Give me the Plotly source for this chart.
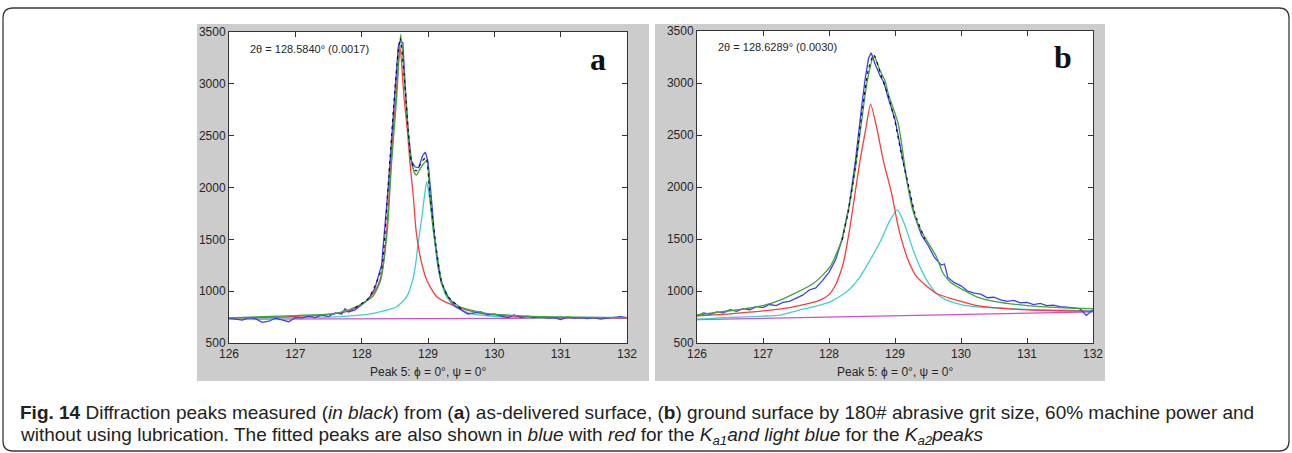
import plotly.graph_objects as go

W, H = 1292, 453

# ---------------- Panel a data ----------------
a_base_x = [126.0, 132.0]
a_base_y = [730, 742]

a_ka1_x = [126.0, 126.5, 127.0, 127.5, 127.774, 128.025, 128.176, 128.277, 128.327, 128.377, 128.412, 128.442,
           128.477, 128.518, 128.578, 128.638, 128.689, 128.729, 128.779, 128.819, 128.854, 128.905, 128.98,
           129.131, 129.433, 129.784, 130.2, 130.6, 131.0, 131.5, 132.0]
a_ka1_y = [742, 746, 756, 776, 802, 883, 979, 1108, 1268, 1590, 1911, 2233,
           2554, 2875, 3357, 2875, 2554, 2233, 1911, 1590, 1429, 1268, 1108,
           947, 850, 786, 762, 752, 746, 742, 740]

a_ka2_x = [126.0, 127.0, 127.673, 128.176, 128.528, 128.679, 128.769, 128.815, 128.845, 128.88, 128.915, 128.945,
           128.98, 129.02, 129.08, 129.141, 129.191, 129.282, 129.407, 129.633, 130.036, 130.5, 131.0, 132.0]
a_ka2_y = [738, 745, 754, 786, 850, 947, 1108, 1268, 1429, 1590, 1751, 1911,
           2056, 1911, 1590, 1268, 1108, 947, 850, 786, 754, 746, 742, 740]

a_fit_x = [126.0, 127.0, 127.62, 127.92, 128.166, 128.287, 128.387, 128.45, 128.528, 128.59, 128.663, 128.70,
           128.754, 128.82, 128.90, 128.98, 129.03, 129.08, 129.156, 129.20, 129.29, 129.48, 129.88, 130.5,
           131.0, 132.0]
a_fit_y = [742, 765, 786, 850, 947, 1108, 1590, 2233, 2875, 3480, 2875, 2554,
           2233, 2120, 2200, 2260, 1911, 1590, 1268, 1108, 947, 850, 786, 760,
           752, 745]

a_meas_x = [126.0, 126.1, 126.2, 126.3, 126.4, 126.5, 126.6, 126.7, 126.8, 126.9, 127.0, 127.1, 127.2, 127.3,
            127.4, 127.5, 127.6, 127.7, 127.75, 127.8, 127.9, 128.0, 128.1, 128.2, 128.3, 128.4, 128.45, 128.5,
            128.55, 128.58, 128.62, 128.66, 128.7, 128.75, 128.8, 128.86, 128.92, 128.96, 129.0, 129.05, 129.1,
            129.15, 129.2, 129.3, 129.4, 129.5, 129.6, 129.7, 129.8, 129.9, 130.0, 130.1, 130.2, 130.3, 130.4,
            130.5, 130.6, 130.7, 130.8, 130.9, 131.0, 131.1, 131.2, 131.3, 131.4, 131.5, 131.6, 131.7, 131.8,
            131.9, 132.0]
a_meas_y = [740, 730, 720, 745, 735, 700, 710, 740, 725, 705, 745, 740, 760, 745,
            770, 755, 790, 780, 830, 800, 820, 870, 920, 1030, 1250, 2000, 2450, 2920,
            3350, 3410, 3400, 2950, 2550, 2260, 2200, 2190, 2310, 2340, 2250, 1900, 1520,
            1250, 1080, 950, 860, 820, 780, 790, 800, 770, 780, 760, 745, 770, 745,
            760, 745, 755, 740, 745, 725, 750, 740, 745, 735, 745, 730, 740, 745,
            755, 745]

a_dash_x = [127.9, 128.1, 128.2, 128.3, 128.4, 128.5, 128.58, 128.66, 128.7, 128.75, 128.82, 128.92, 128.97,
            129.03, 129.1, 129.2, 129.3, 129.5]
a_dash_y = [840, 930, 1050, 1220, 2020, 2940, 3440, 2920, 2560, 2250, 2160, 2260, 2290,
            1920, 1540, 1100, 950, 830]

# ---------------- Panel b data ----------------
b_base_x = [126.0, 132.0]
b_base_y = [725, 800]

b_ka1_x = [126.0, 126.5, 127.0, 127.46, 127.864, 128.0, 128.1, 128.18, 128.227, 128.318, 128.394, 128.47, 128.561,
           128.63, 128.722, 128.823, 128.95, 129.05, 129.2, 129.33, 129.63, 129.935, 130.24, 130.7, 131.0, 131.5,
           132.0]
b_ka1_y = [760, 780, 808, 848, 912, 965, 1060, 1190, 1296, 1615, 1935, 2254, 2573,
           2797, 2573, 2254, 1935, 1615, 1296, 1136, 976, 912, 860, 830, 818, 810,
           805]

b_ka2_x = [126.0, 126.5, 127.0, 127.258, 127.51, 127.762, 128.015, 128.268, 128.47, 128.621, 128.773, 128.924,
           129.035, 129.10, 129.177, 129.277, 129.379, 129.48, 129.63, 129.783, 130.035, 130.238, 130.5, 131.0,
           131.5, 132.0]
b_ka2_y = [730, 745, 758, 768, 810, 848, 896, 992, 1136, 1296, 1471, 1679,
           1781, 1711, 1583, 1391, 1231, 1104, 976, 912, 864, 848, 838, 824,
           815, 810]

b_fit_x = [126.0, 126.5, 127.0, 127.258, 127.762, 128.015, 128.19, 128.29, 128.394, 128.495, 128.58, 128.68,
           128.773, 128.848, 128.9, 129.05, 129.18, 129.27, 129.38, 129.48, 129.63, 129.73, 129.85, 130.04,
           130.24, 130.5, 131.0, 131.5, 132.0]
b_fit_y = [770, 810, 860, 912, 1072, 1231, 1487, 1775, 2158, 2637, 3020, 3260,
           3120, 3021, 2893, 2606, 2062, 1775, 1600, 1487, 1327, 1168, 1080, 1008,
           944, 900, 860, 840, 830]

b_meas_x = [126.0, 126.1, 126.2, 126.3, 126.4, 126.5, 126.6, 126.7, 126.8, 126.9, 127.0, 127.1, 127.2, 127.3,
            127.4, 127.5, 127.6, 127.7, 127.8, 127.9, 128.0, 128.1, 128.2, 128.3, 128.4, 128.5, 128.55, 128.6,
            128.64, 128.7, 128.78, 128.83, 128.9, 129.0, 129.1, 129.2, 129.3, 129.4, 129.5, 129.6, 129.7,
            129.75, 129.8, 129.9, 130.0, 130.1, 130.2, 130.3, 130.4, 130.5, 130.6, 130.7, 130.8, 130.9, 131.0,
            131.1, 131.2, 131.3, 131.4, 131.5, 131.6, 131.7, 131.8, 131.9, 132.0]
b_meas_y = [760, 790, 775, 800, 790, 820, 805, 830, 820, 850, 840, 870, 860, 890,
            900, 930, 960, 1010, 1030, 1100, 1180, 1300, 1500, 1800, 2250, 2800, 3050, 3240,
            3290, 3180, 3060, 3010, 2850, 2650, 2330, 2000, 1720, 1540, 1440, 1320, 1250,
            1260, 1130, 1080, 1050, 1000, 980, 970, 935, 940, 915, 900, 910, 885, 890,
            870, 880, 860, 865, 850, 845, 840, 830, 765, 820]

b_dash_x = [128.2, 128.3, 128.4, 128.5, 128.6, 128.68, 128.78, 128.9, 129.0, 129.1, 129.2, 129.3, 129.45]
b_dash_y = [1490, 1790, 2200, 2720, 3140, 3270, 3090, 2870, 2630, 2300, 2030, 1750, 1500]

x_ticks = [126, 127, 128, 129, 130, 131, 132]
y_ticks = [500, 1000, 1500, 2000, 2500, 3000, 3500]

title_a = "2θ = 128.5840° (0.0017)"
title_b = "2θ = 128.6289° (0.0030)"
xlabel = "Peak 5: ϕ = 0°, ψ = 0°"
caption1 = ("<b>Fig. 14</b> Diffraction peaks measured (<i>in black</i>) from (<b>a</b>) as-delivered surface, "
            "(<b>b</b>) ground surface by 180# abrasive grit size, 60% machine power and")
caption2 = ("without using lubrication. The fitted peaks are also shown in <i>blue</i> with <i>red</i> for the "
            "<i>K<sub>a1</sub>and light blue</i> for the <i>K<sub>a2</sub>peaks</i>")

# ---------------- helpers ----------------
def px(x):
    return x / W

def py(y):
    return 1 - y / H

BLUE = "#3d3dff"
GREEN = "#3aa83a"
RED = "#ff3a3a"
CYAN = "#3fd0d0"
MAG = "#cf4fcf"

fig = go.Figure()

def add_panel(xa, ya, base, ka1, ka2, fit, meas, dash):
    lw = 1.3
    fig.add_trace(go.Scatter(x=base[0], y=base[1], mode="lines", line=dict(color=MAG, width=lw),
                             xaxis=xa, yaxis=ya, showlegend=False))
    fig.add_trace(go.Scatter(x=ka2[0], y=ka2[1], mode="lines", line=dict(color=CYAN, width=lw, shape="spline", smoothing=0.6),
                             xaxis=xa, yaxis=ya, showlegend=False))
    fig.add_trace(go.Scatter(x=ka1[0], y=ka1[1], mode="lines", line=dict(color=RED, width=lw, shape="spline", smoothing=0.6),
                             xaxis=xa, yaxis=ya, showlegend=False))
    fig.add_trace(go.Scatter(x=meas[0], y=meas[1], mode="lines", line=dict(color=BLUE, width=lw),
                             xaxis=xa, yaxis=ya, showlegend=False))
    fig.add_trace(go.Scatter(x=fit[0], y=fit[1], mode="lines", line=dict(color=GREEN, width=lw, shape="spline", smoothing=0.6),
                             xaxis=xa, yaxis=ya, showlegend=False))
    fig.add_trace(go.Scatter(x=dash[0], y=dash[1], mode="lines", line=dict(color="#111111", width=1.2, dash="3px,4px", shape="spline", smoothing=0.6),
                             xaxis=xa, yaxis=ya, showlegend=False))

add_panel("x", "y", (a_base_x, a_base_y), (a_ka1_x, a_ka1_y), (a_ka2_x, a_ka2_y),
          (a_fit_x, a_fit_y), (a_meas_x, a_meas_y), (a_dash_x, a_dash_y))
add_panel("x2", "y2", (b_base_x, b_base_y), (b_ka1_x, b_ka1_y), (b_ka2_x, b_ka2_y),
          (b_fit_x, b_fit_y), (b_meas_x, b_meas_y), (b_dash_x, b_dash_y))

TICKFONT = dict(family="Liberation Sans, Arial, sans-serif", size=12, color="#262626")
axis_common = dict(showgrid=False, zeroline=False, showline=True, linecolor="#333333", linewidth=1,
                   mirror="ticks", ticks="inside", ticklen=5, tickcolor="#333333", tickwidth=1,
                   tickfont=TICKFONT, fixedrange=True, automargin=False)

fig.update_layout(
    width=W, height=H, autosize=False,
    margin=dict(l=0, r=0, t=0, b=0, pad=0),
    paper_bgcolor="white",
    plot_bgcolor="rgba(0,0,0,0)",
    showlegend=False,
    xaxis=dict(domain=[px(229), px(627)], range=[126, 132], tickvals=x_ticks, anchor="y", **axis_common),
    yaxis=dict(domain=[py(343), py(32)], range=[500, 3500], tickvals=y_ticks, anchor="x", **axis_common),
    xaxis2=dict(domain=[px(697), px(1093)], range=[126, 132], tickvals=x_ticks, anchor="y2", **axis_common),
    yaxis2=dict(domain=[py(343), py(31)], range=[500, 3500], tickvals=y_ticks, anchor="x2", **axis_common),
)

shapes = []
for (x0, x1) in [(197, 649), (655, 1105)]:
    shapes.append(dict(type="rect", xref="paper", yref="paper", x0=px(x0), x1=px(x1), y0=py(381), y1=py(24),
                       fillcolor="#cccccc", line=dict(width=0), layer="below"))
shapes.append(dict(type="rect", xref="paper", yref="paper", x0=px(229), x1=px(627), y0=py(343), y1=py(32),
                   fillcolor="white", line=dict(width=0), layer="below"))
shapes.append(dict(type="rect", xref="paper", yref="paper", x0=px(697), x1=px(1093), y0=py(343), y1=py(31),
                   fillcolor="white", line=dict(width=0), layer="below"))
r = 10
L, R, T, B = 3, 1289, 8, 451
path = (f"M {px(L)},{py(T + r)} Q {px(L)},{py(T)} {px(L + r)},{py(T)} "
        f"L {px(R - r)},{py(T)} Q {px(R)},{py(T)} {px(R)},{py(T + r)} "
        f"L {px(R)},{py(B - r)} Q {px(R)},{py(B)} {px(R - r)},{py(B)} "
        f"L {px(L + r)},{py(B)} Q {px(L)},{py(B)} {px(L)},{py(B - r)} Z")
shapes.append(dict(type="path", xref="paper", yref="paper", path=path, line=dict(color="#3a3a3a", width=1.3),
                   fillcolor="rgba(0,0,0,0)", layer="below"))
fig.update_layout(shapes=shapes)

ann = []
SMALL = dict(family="Liberation Sans, Arial, sans-serif", size=11, color="#262626")
ann.append(dict(text=title_a, x=px(248), y=py(49), xref="paper", yref="paper", xanchor="left", yanchor="middle",
                showarrow=False, font=SMALL))
ann.append(dict(text=title_b, x=px(716), y=py(47), xref="paper", yref="paper", xanchor="left", yanchor="middle",
                showarrow=False, font=SMALL))
ann.append(dict(text=xlabel, x=px(428), y=py(372), xref="paper", yref="paper", xanchor="center", yanchor="middle",
                showarrow=False, font=TICKFONT))
ann.append(dict(text=xlabel, x=px(895), y=py(372), xref="paper", yref="paper", xanchor="center", yanchor="middle",
                showarrow=False, font=TICKFONT))
BIG = dict(family="Liberation Serif, Times New Roman, serif", size=32, color="#111111")
ann.append(dict(text="<b>a</b>", x=px(598), y=py(59), xref="paper", yref="paper", xanchor="center", yanchor="middle",
                showarrow=False, font=BIG))
ann.append(dict(text="<b>b</b>", x=px(1063), y=py(57), xref="paper", yref="paper", xanchor="center", yanchor="middle",
                showarrow=False, font=BIG))
CAP = dict(family="Liberation Sans, Arial, sans-serif", size=19, color="#222222")
ann.append(dict(text=caption1, x=px(18), y=py(412), xref="paper", yref="paper", xanchor="left", yanchor="middle",
                showarrow=False, font=CAP, align="left"))
ann.append(dict(text=caption2, x=px(18), y=py(436), xref="paper", yref="paper", xanchor="left", yanchor="middle",
                showarrow=False, font=CAP, align="left"))
fig.update_layout(annotations=ann)

fig.write_html(
    "out.html",
    config={"displayModeBar": False, "staticPlot": True},
    post_script="document.body.style.margin='0px';document.body.style.padding='0px';"
                "document.body.style.overflow='hidden';document.documentElement.style.overflow='hidden';",
)
